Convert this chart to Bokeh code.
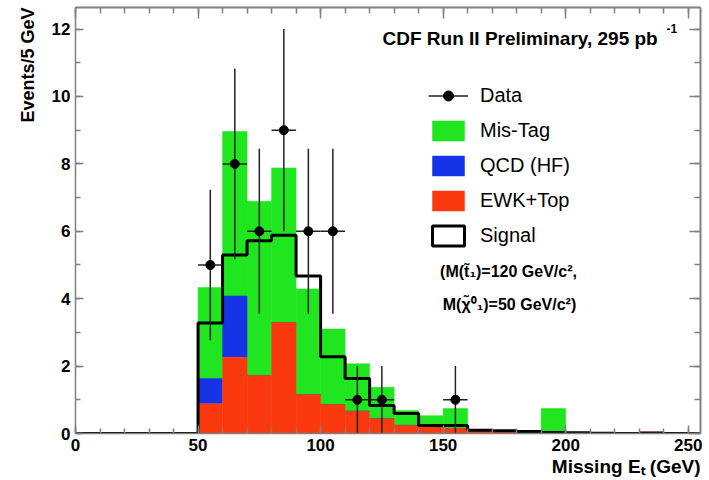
import math
from bokeh.plotting import figure
from bokeh.models import (Range1d, FixedTicker, LinearAxis, Label, Legend, LegendItem, Title)
from bokeh.embed import file_html
from bokeh.resources import INLINE

# ---------------- data ----------------
bin_lo = [50, 60, 70, 80, 90, 100, 110, 120, 130, 140, 150, 160, 170, 180, 190,
          200, 210, 220, 230, 240, 250]
bin_width = 10
ewk_top = [0.88, 2.26, 1.72, 3.29, 1.15, 0.86, 0.66, 0.44, 0.24, 0.19, 0.15, 0.08,
           0.06, 0.04, 0.03, 0.02, 0.02, 0.01, 0.05, 0.0, 0.0]
qcd_hf = [0.75, 1.82, 0.0, 0.0, 0.0, 0.0, 0.0, 0.0, 0.0, 0.0, 0.0, 0.0,
          0.0, 0.0, 0.0, 0.0, 0.0, 0.0, 0.0, 0.0, 0.0]
mis_tag = [2.70, 4.88, 5.17, 4.59, 3.14, 2.24, 1.41, 0.93, 0.44, 0.34, 0.59, 0.0,
           0.0, 0.02, 0.71, 0.0, 0.0, 0.0, 0.0, 0.0, 0.0]
signal = [3.28, 5.30, 5.72, 5.88, 4.67, 2.28, 1.63, 0.83, 0.59, 0.24, 0.24, 0.10,
          0.08, 0.06, 0.03, 0.02, 0.01, 0.0, 0.0, 0.0, 0.0]
data_x = [55, 65, 75, 85, 95, 105, 115, 125, 155]
data_n = [5, 8, 6, 9, 6, 6, 1, 1, 1]

x_ticks = [0, 50, 100, 150, 200, 250]
y_ticks = [0, 2, 4, 6, 8, 10, 12]

GREEN = "#1fe61f"
BLUE = "#1434e6"
RED = "#fa3a0e"
GREY = "#808080"
FONT = "Liberation Sans"

# ---------------- derived ----------------
bin_hi = [b + bin_width for b in bin_lo]
red_top = ewk_top
blue_top = [a + b for a, b in zip(red_top, qcd_hf)]
green_top = [a + b for a, b in zip(blue_top, mis_tag)]
zeros = [0.0] * len(bin_lo)

sig_x = [0] + bin_lo + [bin_hi[-1]]
sig_y = [0.0] + signal + [signal[-1]]

err = [math.sqrt(n) for n in data_n]
d_lo = [n - e for n, e in zip(data_n, err)]
d_hi = [n + e for n, e in zip(data_n, err)]
d_x0 = [x - bin_width / 2 for x in data_x]
d_x1 = [x + bin_width / 2 for x in data_x]

# ---------------- figure ----------------
p = figure(width=709, height=480, output_backend="svg", toolbar_location=None,
           x_range=Range1d(0, 255), y_range=Range1d(0, 12.64),
           min_border_left=75, min_border_right=9, min_border_top=7,
           min_border_bottom=47, background_fill_color="white",
           border_fill_color="white")
p.outline_line_color = None
p.xgrid.visible = False
p.ygrid.visible = False

green_r = p.quad(left=bin_lo, right=bin_hi, bottom=blue_top, top=green_top,
                 fill_color=GREEN, line_color=GREEN, line_width=0.5)
blue_r = p.quad(left=bin_lo, right=bin_hi, bottom=red_top, top=blue_top,
                fill_color=BLUE, line_color=BLUE, line_width=0.5)
red_r = p.quad(left=bin_lo, right=bin_hi, bottom=zeros, top=red_top,
               fill_color=RED, line_color=RED, line_width=0.5)

p.step(sig_x, sig_y, mode="after", line_color="black", line_width=3)

# signal legend proxy (degenerate box at the origin of the signal curve)
sig_proxy = p.quad(left=sig_x[:1], right=sig_x[:1], bottom=sig_y[:1], top=sig_y[:1],
                   fill_color="white", line_color="black", line_width=3)

vseg = p.segment(x0=data_x, x1=data_x, y0=d_lo, y1=d_hi, line_color="#222222",
                 line_width=1.5)
hseg = p.segment(x0=d_x0, x1=d_x1, y0=data_n, y1=data_n, line_color="#222222",
                 line_width=1.5)
pts = p.scatter(data_x, data_n, size=9, color="black")

# ---------------- axes ----------------
for ax in (p.xaxis[0], p.yaxis[0]):
    ax.axis_line_color = GREY
    ax.axis_line_width = 1.5
    ax.major_tick_line_color = GREY
    ax.minor_tick_line_color = GREY
    ax.major_tick_line_width = 1.5
    ax.minor_tick_line_width = 1.5
    ax.major_tick_out = 0
    ax.minor_tick_out = 0
    ax.major_tick_in = 8
    ax.minor_tick_in = 5
    ax.major_label_text_font = FONT
    ax.major_label_text_font_style = "bold"
    ax.major_label_text_font_size = "17px"
    ax.major_label_text_color = "black"
    ax.major_label_standoff = 5

p.xaxis[0].ticker = FixedTicker(ticks=x_ticks, minor_ticks=list(range(0, 260, 10)))
p.yaxis[0].ticker = FixedTicker(ticks=y_ticks, minor_ticks=list(range(0, 13)))

top_ax = LinearAxis(ticker=FixedTicker(ticks=x_ticks, minor_ticks=list(range(0, 260, 10))))
right_ax = LinearAxis(ticker=FixedTicker(ticks=y_ticks, minor_ticks=list(range(0, 13))))
for ax in (top_ax, right_ax):
    ax.axis_line_color = GREY
    ax.axis_line_width = 2
    ax.major_tick_line_color = GREY
    ax.minor_tick_line_color = GREY
    ax.major_tick_line_width = 1.5
    ax.minor_tick_line_width = 1.5
    ax.major_tick_out = 0
    ax.minor_tick_out = 0
    ax.major_tick_in = 11
    ax.minor_tick_in = 6
    ax.major_label_text_font_size = "0px"
    ax.major_label_standoff = 0
p.add_layout(top_ax, "above")
p.add_layout(right_ax, "right")

# axis titles (ROOT style: aligned to the end of the axis)
p.add_layout(Title(text="Events/5 GeV", align="right", text_font=FONT,
                   text_font_size="18px", text_font_style="bold",
                   text_color="black", standoff=22), "left")
p.add_layout(Title(text="Missing E\u209c (GeV)", align="right", text_font=FONT,
                   text_font_size="19px", text_font_style="bold",
                   text_color="black", standoff=0), "below")

# ---------------- legend ----------------
legend = Legend(items=[
    LegendItem(label="Data", renderers=[hseg, pts]),
    LegendItem(label="Mis-Tag", renderers=[green_r]),
    LegendItem(label="QCD (HF)", renderers=[blue_r]),
    LegendItem(label="EWK+Top", renderers=[red_r]),
    LegendItem(label="Signal", renderers=[sig_proxy]),
], location=(353, 185), glyph_width=40, glyph_height=25, label_standoff=12,
    spacing=10, padding=0, margin=0, border_line_color=None,
    background_fill_alpha=0, label_text_font=FONT, label_text_font_size="20px",
    label_text_color="black", label_text_baseline="middle")
p.add_layout(legend)

# ---------------- texts inside the frame (screen units, relative to frame) ----------------
def lab(text, px, py, size, style="bold", align="left", baseline="middle"):
    p.add_layout(Label(x=px - 75, y=433 - py, x_units="screen", y_units="screen",
                       text=text, text_font=FONT, text_font_size=size,
                       text_font_style=style, text_align=align,
                       text_baseline=baseline, text_color="black"))

lab("CDF Run II Preliminary, 295 pb", 382, 38, "19px")
lab("-1", 666, 28, "12px")
lab("(M(t\u0303\u2081)=120 GeV/c\u00b2,", 508, 271, "16px", align="center")
lab("M(\u03c7\u0303\u2070\u2081)=50 GeV/c\u00b2)", 509, 304, "16px", align="center")

open("out.html", "w").write(file_html(p, INLINE))
